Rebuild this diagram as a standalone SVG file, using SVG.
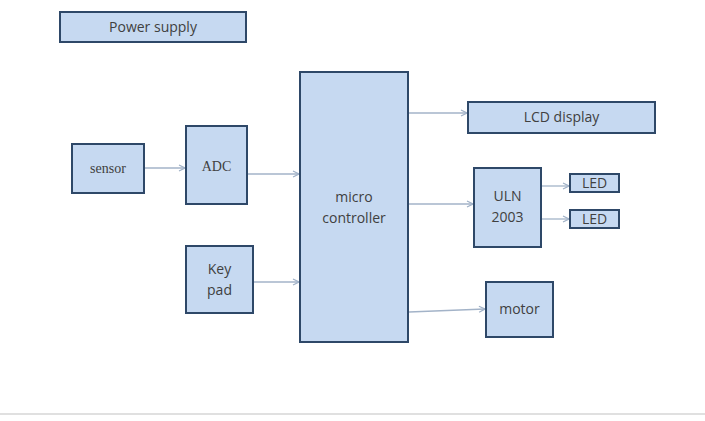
<svg xmlns="http://www.w3.org/2000/svg" width="705" height="421" viewBox="0 0 705 421">
<defs>
<marker id="ah" markerWidth="8" markerHeight="8" refX="7" refY="4" orient="auto" markerUnits="userSpaceOnUse">
<path d="M1,1 L7,4 L1,7" fill="none" stroke="#9fb0c6" stroke-width="1.2"/>
</marker>
</defs>
<style>
.box{fill:#c6d9f1;stroke:#2e4868;stroke-width:2}
.t{font-family:"Open Sans","Liberation Sans",sans-serif;font-size:14px;fill:#404040;text-anchor:middle}
.s{font-family:"Liberation Serif",serif;font-size:14px;fill:#404040;text-anchor:middle}
.c{stroke:#a3b3c8;stroke-width:1.3;fill:none;marker-end:url(#ah)}
</style>
<rect width="705" height="421" fill="#ffffff"/>
<line x1="0" y1="414" x2="705" y2="414" stroke="#d6d6d6" stroke-width="1.5"/>
<g id="connectors">
<line class="c" x1="144" y1="168" x2="185" y2="168"/>
<line class="c" x1="247" y1="174" x2="299" y2="174"/>
<line class="c" x1="253" y1="282" x2="299" y2="282"/>
<line class="c" x1="409" y1="113" x2="467" y2="113"/>
<line class="c" x1="409" y1="204" x2="473" y2="204"/>
<line class="c" x1="541" y1="186" x2="569" y2="186"/>
<line class="c" x1="541" y1="219" x2="569" y2="219"/>
<line class="c" x1="409" y1="312" x2="485" y2="309"/>
</g>
<g id="power"><rect class="box" x="60" y="12" width="186" height="30"/><text class="t" x="153" y="32">Power supply</text></g>
<g id="sensor"><rect class="box" x="72" y="144" width="72" height="49"/><text class="s" x="108" y="173">sensor</text></g>
<g id="adc"><rect class="box" x="186" y="126" width="61" height="78"/><text class="s" x="216.5" y="171">ADC</text></g>
<g id="keypad"><rect class="box" x="186" y="246" width="67" height="67"/><text class="t" x="219.5" y="274">Key</text><text class="t" x="219.5" y="295">pad</text></g>
<g id="micro"><rect class="box" x="300" y="72" width="108" height="270"/><text class="t" x="354" y="202">micro</text><text class="t" x="354" y="223">controller</text></g>
<g id="lcd"><rect class="box" x="468" y="102" width="187" height="31"/><text class="t" x="561.5" y="122">LCD display</text></g>
<g id="uln"><rect class="box" x="474" y="168" width="67" height="79"/><text class="t" x="507.5" y="201">ULN</text><text class="t" x="507.5" y="222">2003</text></g>
<g id="led1"><rect class="box" x="570" y="174" width="49" height="18"/><text class="t" x="594.5" y="188">LED</text></g>
<g id="led2"><rect class="box" x="570" y="210" width="49" height="18"/><text class="t" x="594.5" y="224">LED</text></g>
<g id="motor"><rect class="box" x="486" y="282" width="67" height="55"/><text class="t" x="519.5" y="314">motor</text></g>
</svg>
